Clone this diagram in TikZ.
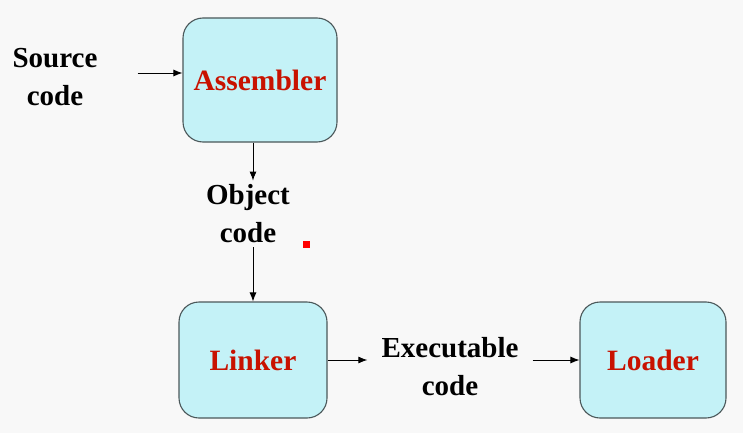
\documentclass[tikz,border=0pt]{standalone}
\usepackage{fontspec}
\setmainfont{Liberation Serif}[BoldFont={Liberation Serif Bold}]
\usetikzlibrary{positioning,arrows.meta}
\definecolor{boxfill}{RGB}{196,242,247}
\definecolor{boxline}{RGB}{75,88,90}
\definecolor{namered}{RGB}{200,18,0}
\definecolor{pagebg}{RGB}{248,248,248}
\tikzset{
	stagebox/.style={draw=boxline, line width=1.1pt, fill=boxfill, rounded corners=20pt, text=namered, font=\bfseries\fontsize{29.5}{36}\selectfont},
	codetext/.style={align=center, inner sep=4pt, font=\bfseries\fontsize{29}{38}\selectfont},
	flow/.style={-{Latex[length=9pt,width=7pt]}, line width=0.9pt}
}
\begin{document}
\begin{tikzpicture}[x=1pt,y=-1pt]
	            \fill[pagebg] (0,0) rectangle (743,433);
	            \node[stagebox, minimum width=154pt, minimum height=124pt] at (260,80) (asm) {Assembler};
	            \node[stagebox, minimum width=148pt, minimum height=116pt] at (253,360) (lnk) {Linker};
	            \node[stagebox, minimum width=146pt, minimum height=116pt] at (653,360) (ldr) {Loader};
	            \node[codetext] at (55,77) (src) {Source\\code};
	            \node[codetext] at (248,214) (obj) {Object\\code};
	            \node[codetext, inner xsep=14pt] at (450,367) (exe) {Executable\\code};
	            \draw[flow, shorten <=36pt] ([yshift=7pt]src.east |- asm.west) -- ([yshift=7pt]asm.west);
	            \draw[flow] (lnk.north |- asm.south) -- (lnk.north |- obj.north);
	            \draw[flow] (lnk.north |- obj.south) -- (lnk.north);
	            \draw[flow] (lnk.east) -- (lnk.east -| exe.west);
	            \draw[flow] (ldr.west -| exe.east) -- (ldr.west);
	            \fill[red] (303,241) rectangle (310,248);
            \end{tikzpicture}
\end{document}
